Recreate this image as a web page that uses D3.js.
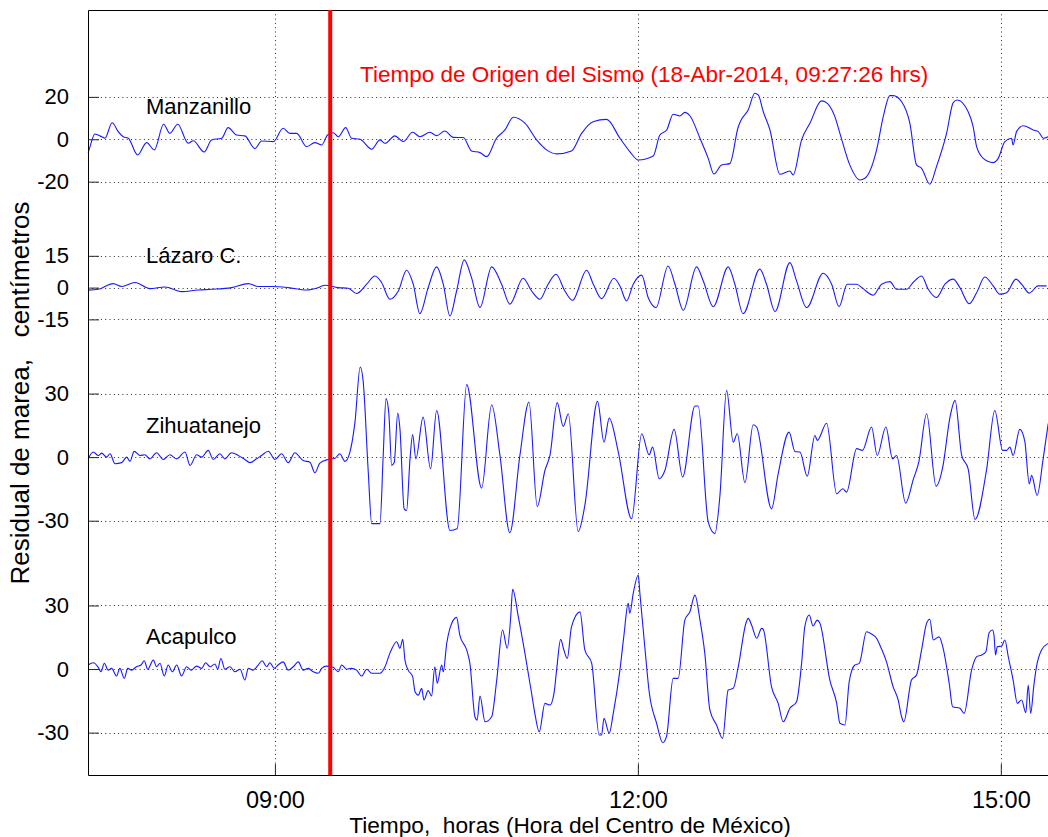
<!DOCTYPE html>
<html><head><meta charset="utf-8">
<script src="https://cdn.jsdelivr.net/npm/d3@7"></script>
<style>
body{margin:0;background:#fff}
svg{display:block}
text{font-family:"Liberation Sans",Arial,Helvetica,sans-serif;white-space:pre}
</style>
</head><body>
<svg id="chart" width="1048" height="837"></svg>
<script>
// ---- data (time in minutes after 07:00, values in cm) ----
const stations = ["Manzanillo", "Lázaro C.", "Zihuatanejo", "Acapulco"];
const stationOffsets = [250, 180, 100, 0];
const stationTicks = [[20, 0, -20], [15, 0, -15], [30, 0, -30], [30, 0, -30]];
const timeTicks = [120, 300, 480];
const timeTickLabels = ["09:00", "12:00", "15:00"];
const quakeTime = 147.43;
const quakeLabel = "Tiempo de Origen del Sismo (18-Abr-2014, 09:27:26 hrs)";
const xLabel = "Tiempo,  horas (Hora del Centro de México)";
const yLabel = "Residual de marea,   centímetros";

const manzanillo = [[27.4,-6.3],[28.3,-3.5],[30.7,2.5],[34.1,1.2],[35.7,0.5],[39.3,7.8],[42.3,3.6],[44.8,1.2],[47.3,0.5],[51.9,-7.4],[56.4,-1.6],[60.2,-5],[64.8,7.1],[67.9,2.8],[71.8,7.1],[77,-1.9],[79.5,-0.7],[84.9,-6],[88.6,-0.3],[93.6,0.5],[96.8,5.5],[101,2],[105.1,1.6],[110.1,-4.4],[113.4,-0.8],[119.2,-1.1],[124.1,5.2],[127.4,2.8],[130.8,2.8],[135.7,-3.5],[139.8,-1.6],[143.2,-2.7],[146.1,2],[148.9,3.1],[151.4,1.2],[155.1,5.5],[158,0.5],[162.2,0],[168,-4.7],[172.1,-0.3],[174.6,-1.9],[179.5,1.6],[183.6,-1.1],
[188.3,3.3],[191.9,1.2],[196.9,3.3],[200.2,1.7],[204.3,3.9],[208.4,0.9],[213.4,0.8],[217.5,-5.5],[221.7,-6.3],[225,-8.2],[229.9,0.5],[234.1,4.4],[238.2,10.4],[244,7.6],[249.8,-0.3],[254.7,-5],[259.7,-6.9],[267.1,-5.5],[272.1,2.8],[277.8,8.3],[284.5,9.4],[291.1,0.5],[296,-5.8],[300.2,-9.8],[307.6,-7.9],[310.9,2],[314.3,4.4],[317.5,11.8],[320.8,11],[323.3,12.7],[325.8,11.1],[330.8,0.5],[334.9,-9],[337.7,-16.4],[341.5,-12.1],
[345.6,-11.5],[349.8,5.9],[351.4,9.4],[354.7,13.8],[358,21.7],[359.7,20.9],[362.2,13],[365.5,4.4],[370.4,-16.5],[375.4,-15],[377,-16.8],[381.2,-0.3],[385.3,7.5],[391.1,18.1],[392.8,17.7],[397.7,10.7],[400.2,2.8],[405.1,-12.1],[410.1,-19.2],[412.6,-18.4],[418.4,-5],[421.7,10.7],[425,20.6],[426.6,20.6],[430.8,17.7],[434.9,7.5],[438.2,-12.1],[440.7,-13.7],[444.8,-21.2],[448.1,-12.9],[453.1,2.8],[456.4,17.3],[458.4,18.5],[463.8,13],[466.3,5.9],[468,-3.5],[471.3,-9],[476.2,-11],[478.7,-9],[482,-1.1],[485.3,0.5],[486.1,-2.7],[487.8,3.6],[491.1,6.4],[496.1,4.4],[498.6,3.6],[501.1,0.5],[503.6,1.2]];

const lazaro = [[27.4,-1.2],[32.4,-0.8],[39.8,1.9],[44,0.5],[50.6,2.4],[58,-0.5],[65.5,0.3],[73.7,-1.9],[82,-1.1],[88.6,-0.8],[98.5,0],[106.8,1.9],[111.7,0.5],[118.4,0.5],[126.6,0],[135.7,-1.1],[141.5,0],[144.8,1.1],[151.4,0],[156.4,-0.3],[160.5,-2.8],[165.5,1.6],[169.6,5.5],[172.9,2.4],[177,-5.5],[181.2,-1.6],[185.3,8.2],[188.6,1.6],[191.9,-12.3],[196,0],[200.2,9.8],[203.5,1.6],[206.8,-13.4],[210.1,-1.6],[213.9,13.1],[217.5,4.7],[221.7,-9.4],[227.5,9.8],[232.4,1.6],[236.5,-7.8],[243.1,4.4],[247.3,-1.6],[251.4,-5.5],[255.5,1.6],[259.4,6.3],[263.8,-1.6],[267.6,-6],[274.6,8.2],[277.9,1.6],[282,-5.2],[288.1,4.4],[291.1,0.8],[294.4,-6.3],[297.7,1.6],[301.9,5.9],[305.1,-4.7],[309,-9.4],[315,10.2],[318.4,1.6],[322.5,-10.7],[329.1,9.8],[332.4,3.2],[337.4,-9],[344.8,9.8],[348.1,1.6],[352.2,-12.3],[360.5,8.7],[363.8,1.6],[368,-11.3],[375.4,11.8],[378.7,3.2],[383.7,-9.4],[391.9,6.8],[396.1,1.6],[399.8,-9],[403.8,1.6],[408.5,1.6],[411.7,-0.5],[416.7,-3.6],[420.9,1.6],[425,2.8],[428.3,-0.8],[433.3,-0.8],[436.5,2.4],[440.7,5.5],[444,-0.8],[448.1,-4.7],[452.3,1.6],[456.4,4],[459.7,0],[464.3,-7.6],[468,-2.4],[472.1,5],[476.2,0.8],[479.5,-3.1],[482.9,-2.4],[487.5,4],[490.3,1.6],[494.1,-2.6],[498.5,0.8],[502.7,0.8]];

const zihuatanejo = [[27.4,-0.8],[29.9,2.4],[32.4,0.8],[34.1,1.9],[36.5,0],[38.2,1.6],[40.7,-3.1],[44,-2.6],[46.5,0],[48.1,-2],[50.2,2.7],[53.1,0.8],[55.5,1.1],[58,-0.8],[61.3,2.1],[64.6,-1.1],[67.9,1.1],[71.3,-0.8],[75.4,2.4],[77.9,-3.9],[81.2,1.1],[83.7,0],[86.9,3.2],[89.4,-1.1],[92.7,1.6],[95.2,-0.8],[98.5,2.1],[101.8,0.8],[105.1,-1.1],[107.6,-2.6],[110.9,-0.8],[113.4,0.8],[116.7,2.8],[120,-1.1],[123.3,1.6],[126.6,-2.6],[129.9,2.1],[134,-1.6],[137.4,-2.4],[139.8,-7.4],[142.3,-2.8],[146.4,-1.1],[149.8,-0.5],[152.2,1.6],[154.7,-2],[157.2,2.4],[159.7,16.5],[162.3,42.5],[163.8,35.4],[166.3,-7.1],[168,-31.4],[172.1,-31.4],[173.7,0.8],[175.1,27.6],[176.5,20.5],[177.9,-3.9],[179.2,-2.4],[180.9,20.8],[182,13.4],[184.1,-24.4],[185.3,-25.2],[187,-0.8],[188.3,10.6],[189.9,-0.8],[193.5,18.9],[197.2,-5.5],[200.2,22],[206.8,-34.6],[210.4,-33.8],[215.1,34.2],[222.5,-14.6],[227.5,24.7],[231.6,0.8],[236.5,-35.7],[241.5,0.8],[246,26],[250.1,-23.3],[253.9,-6.3],[256.4,0.8],[260,25.7],[263,14.5],[265.5,20.5],[270.4,-35.1],[273.7,-22.8],[280,26.3],[283.2,7.1],[285.8,18.4],[290.3,2.4],[296.9,-29.1],[301.9,11],[305.6,1.1],[307.3,4.7],[310.6,-10.2],[313.4,-6.3],[318,13.1],[322.2,-9.4],[328.3,24.1],[329.9,24.1],[334.9,-30.7],[338.2,-36.1],[340.7,-18.1],[344,31.5],[347.3,7.1],[349.3,11],[353.1,-12.1],[357.2,15.3],[358.9,14.2],[366.3,-24.4],[369.6,-7.8],[375,11.8],[377.9,2.7],[380.4,2.4],[384,-9],[387.8,10.2],[389,7.9],[393.6,16],[398.6,-17.3],[401.6,-14.9],[403.5,-16.5],[408.5,4],[411.4,3.2],[415.9,14.2],[418.7,0.8],[423,14.2],[426.3,-0.8],[428.3,0.8],[432.8,-21.7],[436.6,-10.5],[439.4,-2],[443.2,20.5],[447.9,-13.7],[451.2,-4.7],[454.8,18.9],[457.3,26.8],[460.6,0.8],[463.8,-5.5],[467.2,-29.4],[473,-5.5],[477,22],[480.9,3.2],[482.9,3.2],[484.5,4.7],[486.1,0.8],[489.4,13.1],[491.9,7.4],[494.1,-12.6],[495.3,-8.6],[498,-18.1],[501,-0.8],[503.5,15.8]];

const acapulco = [[27.4,1.9],[29.9,3],[32.4,0.8],[33.7,-1.3],[35.4,2.7],[37.3,-0.5],[39,0.3],[41.5,-3.3],[43.1,0.3],[45.3,-4.4],[47,0.3],[48.9,-0.5],[51.4,1.1],[53.6,1.9],[55.2,3.9],[56.9,-0.1],[59.7,4.2],[61.3,1.1],[63,2.7],[65.1,-3.3],[67.1,1.9],[69.1,-1.3],[71.3,1.9],[73.7,-3.3],[76.2,1.1],[78.4,-0.5],[81.2,1.4],[83.7,0.3],[85.6,3],[87.8,1.1],[90.3,2.4],[91.6,-0.1],[93.2,5],[95.2,-0.1],[97.7,1.1],[100.2,-1.3],[102.7,-0.1],[105.1,-5.2],[106.8,0.3],[109.2,-0.5],[111.7,1.9],[113.7,3.9],[115.9,1.1],[117.5,3],[119.7,0.3],[121.6,1.9],[124.1,3.4],[126.6,-0.5],[129.1,1.1],[131.6,3.4],[134,-0.5],[136.5,0.3],[139,-1.3],[141.5,-2],[143.2,0.3],[145.6,1.4],[148.9,0.8],[151.4,-1.3],[153.1,1.9],[155.6,-0.1],[158,0.3],[160.5,-0.5],[163,-3.3],[165.5,-0.1],[168,-2],[172.1,-2],[174.6,1.1],[177,7.4],[180.4,12.9],[182,9.8],[183.4,14],[184.5,4.2],[186.1,-0.5],[188.3,-3.6],[189.5,-10.7],[191.1,-12.3],[192.8,-9.1],[193.9,-14.6],[196,-10.2],[197.7,-12.7],[199.3,1.1],[200.5,-6.7],[202.7,1.9],[203.5,-1.3],[205.2,12.1],[206.8,19.2],[210.1,24.4],[211.7,16],[215.1,9],[216.7,2.7],[219.2,-22.5],[220.3,-24.1],[221.7,-12.7],[224.2,-24.9],[227.5,-22.5],[230,-5.2],[232.9,18.4],[235.2,9.8],[236.9,23.9],[237.9,37.6],[240.7,24.7],[244,7.4],[247.3,-11.5],[248.9,-20.9],[251.1,-29.6],[253.9,-16.2],[256.4,-17],[258.4,-11.5],[259.7,-0.5],[261.7,14],[263.3,9],[265,5],[267.1,20],[271.3,27],[273.7,9],[277.1,2.7],[280.8,-31.1],[282,-31.1],[283.2,-23.3],[285.8,-30.3],[287.8,-20.9],[291.1,-0.5],[293.1,16],[295.2,31],[296,26.3],[297.7,35.7],[300.2,44.4],[301,35.7],[303.5,9.8],[305.6,-10.7],[309.3,-25.6],[312.3,-34.8],[314.2,-31.9],[317.5,-4.4],[320,-4.4],[323.3,23.1],[325.8,27],[328.3,34.9],[330.8,23.1],[333.2,7.4],[335.7,-19.3],[339,-26.4],[342,-32.7],[344.8,-9.9],[347.3,-9.1],[349.8,1.1],[353.6,21.6],[354.7,23.9],[356.4,20.8],[358.9,14.5],[361.4,19.2],[362.2,18.7],[366.3,-8.4],[369.6,-16.2],[372.1,-24.9],[375.4,-18.5],[378.7,-15.4],[381.2,2.7],[382.8,20],[385,25.5],[386.9,20.3],[388.9,23.1],[390.3,21.6],[395.2,-5.2],[398.6,-16.2],[400.2,-25.6],[402.7,-26.4],[404.8,-6],[407.6,1.9],[409.8,2.7],[413.4,17.6],[415.9,16.5],[418.4,14.5],[420,11.3],[423.3,3.4],[426.6,-8.4],[429.1,-14.6],[430.8,-22.5],[431.9,-24.9],[435.7,-5.2],[438.2,-2.8],[440.7,9],[443.2,21.6],[444.8,23.5],[446.5,13.7],[449.4,15.2],[451.4,9.8],[454.4,-6.7],[456.1,-17.8],[459.7,-18.5],[461.8,-20.9],[465.5,-0.5],[468,5.8],[470.5,6.6],[472.6,8.2],[474.2,17.1],[475.9,18.4],[476.6,16],[477.4,6.6],[478.2,10.5],[480.4,10.9],[482,13.7],[483.7,5.8],[486.1,-5.2],[488.2,-16.2],[490.3,-14.6],[492.4,-20.6],[493.6,-7.6],[494.8,-20.9],[496.4,-7.6],[497.7,1.1],[500.2,9],[503.5,12.1]];

const seriesData = [manzanillo, lazaro, zihuatanejo, acapulco];

// ---- drawing ----
const svg = d3.select("#chart");
const pLeft = 88, pRight = 1048, pTop = 10, pBottom = 775;
const x = d3.scaleLinear().domain([27.3, 503.4]).range([pLeft, pRight]);
const y = d3.scaleLinear().domain([-50, 311]).range([pBottom, pTop]);
const FS = 22;

// grid
const grid = svg.append("g").attr("stroke", "#2a2a2a").attr("stroke-width", 1).attr("stroke-dasharray", "1,3.3");
stationTicks.forEach((ticks, i) => ticks.forEach(v => {
  const yy = Math.round(y(stationOffsets[i] + v)) + 0.5;
  grid.append("line").attr("x1", pLeft).attr("x2", pRight).attr("y1", yy).attr("y2", yy);
}));
timeTicks.forEach(t => {
  const xx = Math.round(x(t)) + 0.5;
  grid.append("line").attr("x1", xx).attr("x2", xx).attr("y1", pTop).attr("y2", pBottom);
});

// series
const line = d3.line().x(d => x(d[0])).curve(d3.curveMonotoneX);
seriesData.forEach((data, i) => {
  svg.append("path")
    .attr("d", line.y(d => y(stationOffsets[i] + d[1]))(data))
    .attr("fill", "none").attr("stroke", "#1a1aff").attr("stroke-width", 1.1)
    .attr("stroke-linejoin", "round");
});

// axes (inward ticks, box)
const tickCol = "#262626";
const yTickVals = [], yTickLabs = [];
stationTicks.forEach((ticks, i) => ticks.forEach(v => { yTickVals.push(stationOffsets[i] + v); yTickLabs.push(v); }));
const yAxis = d3.axisLeft(y).tickValues(yTickVals).tickSize(-11).tickPadding(19)
  .tickFormat((d, i) => yTickLabs[i] < 0 ? "-" + Math.abs(yTickLabs[i]) : String(yTickLabs[i]));
const gy = svg.append("g").attr("transform", `translate(${pLeft},0)`).call(yAxis);
gy.select(".domain").remove();
gy.selectAll(".tick line").attr("stroke", tickCol);
gy.selectAll(".tick text").attr("font-size", FS).attr("fill", "#000")
  .attr("font-family", "Liberation Sans, Arial, sans-serif");

const xAxis = d3.axisBottom(x).tickValues(timeTicks).tickSize(-11).tickPadding(16)
  .tickFormat((d, i) => timeTickLabels[i]);
const gx = svg.append("g").attr("transform", `translate(0,${pBottom})`).call(xAxis);
gx.select(".domain").remove();
gx.selectAll(".tick line").attr("stroke", tickCol);
gx.selectAll(".tick text").attr("font-size", 23.5).attr("fill", "#000")
  .attr("font-family", "Liberation Sans, Arial, sans-serif");

// frame
svg.append("path")
  .attr("d", `M${pRight + 2},${pTop + 0.5}H${pLeft + 0.5}V${pBottom + 0.5}H${pRight + 2}`)
  .attr("fill", "none").attr("stroke", "#000").attr("stroke-width", 1);

// earthquake origin line
svg.append("line")
  .attr("x1", x(quakeTime)).attr("x2", x(quakeTime))
  .attr("y1", pTop).attr("y2", pBottom)
  .attr("stroke", "#ff0000").attr("stroke-width", 4);
svg.append("text").attr("x", 360).attr("y", 82).attr("fill", "#ff0000")
  .attr("font-size", 22.5).text(quakeLabel);

// station labels
const labelY = [114, 263, 433, 644];
stations.forEach((s, i) => {
  svg.append("text").attr("x", 146).attr("y", labelY[i]).attr("font-size", FS).attr("fill", "#000").text(s);
});

// axis titles
svg.append("text").attr("x", 570).attr("y", 833).attr("text-anchor", "middle")
  .attr("font-size", 22.7).attr("fill", "#000").text(xLabel);
svg.append("text").attr("transform", "translate(29,393) rotate(-90)").attr("text-anchor", "middle")
  .attr("font-size", 26).attr("fill", "#000").text(yLabel);
</script>
</body></html>
